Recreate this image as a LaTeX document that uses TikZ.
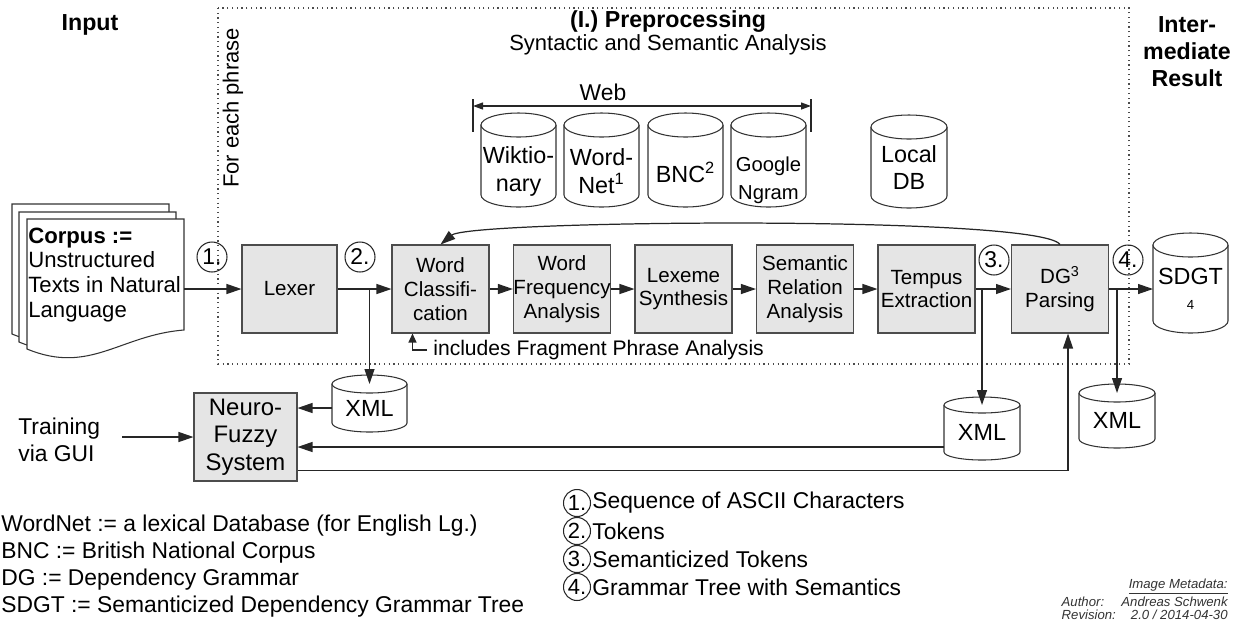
\documentclass[tikz,border=0pt]{standalone}
\usepackage{fontspec}
\setmainfont{Liberation Sans}
\usetikzlibrary{arrows.meta,calc,shapes.geometric}

% one drawing unit = 0.02cm
\newcommand{\pxu}{0.02cm}
\newcommand{\fsz}[2]{\fontsize{#1}{#2}\selectfont}

% database cylinder: [label shift], name, left, top, right, bottom, ellipse y-radius, label
\newcommand{\dbcyl}[8][0]{%
  \filldraw[dbline] (#3,#4+#7) -- (#3,#6-#7)
     arc[start angle=180,end angle=360,x radius={(#5-#3)*\pxu/2},y radius={#7*\pxu}]
     -- (#5,#4+#7)
     arc[start angle=0,end angle=180,x radius={(#5-#3)*\pxu/2},y radius={#7*\pxu}] -- cycle;
  \draw[dbline] (#3,#4+#7)
     arc[start angle=180,end angle=360,x radius={(#5-#3)*\pxu/2},y radius={#7*\pxu}];
  \node[dbframe, minimum width={(#5-#3)*\pxu}, minimum height={(#6-#4)*\pxu}]
     (#2) at ({(#3+#5)/2},{(#4+#6)/2}) {};
  \coordinate (#2-top) at ({(#3+#5)/2},{#4+#7});
  \node[dbtext] (#2-t) at ({(#3+#5)/2},{(#4+#6+#7)/2+#1}) {#8};
}

% stacked document page with a wavy lower edge
\newcommand{\docpage}[2]{%
  \filldraw[docline] (27+#1,219+#2) -- (184+#1,219+#2) -- (184+#1,330+#2)
     .. controls (120+#1,335+#2) and (90+#1,375+#2) .. (27+#1,349+#2) -- cycle;
}

\begin{document}
\begin{tikzpicture}[x=0.02cm, y=-0.02cm,
  proc/.style={draw=black!70, fill=gray!20, line width=0.6pt,
    minimum width=1.94cm, minimum height=1.76cm, inner sep=0pt,
    align=center, font=\fsz{11.7}{13.6}},
  dbline/.style={draw=black!80, fill=white, line width=0.6pt},
  dbframe/.style={inner sep=0pt, outer sep=0pt},
  dbtext/.style={inner sep=0pt, align=center, font=\fsz{13.3}{15.9}},
  docline/.style={draw=black!80, fill=white, line width=0.6pt},
  arr/.style={-{Triangle[length=0.3cm,width=0.2cm]}, draw=black!85, line width=0.7pt},
  smallarr/.style={-{Triangle[length=0.18cm,width=0.16cm]}, draw=black!85, line width=0.7pt},
  webarr/.style={{Triangle[length=0.2cm,width=0.14cm]}-{Triangle[length=0.2cm,width=0.14cm]}, draw=black!85, line width=0.7pt},
  plain/.style={draw=black!85, line width=0.7pt},
  numc/.style={circle, draw=black!85, line width=0.6pt, minimum size=0.6cm, inner sep=0pt, font=\fsz{13}{14}},
  legc/.style={circle, draw=black!85, line width=0.6pt, minimum size=0.54cm, inner sep=0pt, font=\fsz{12.5}{14}},
  hdr/.style={font=\bfseries\fsz{13.2}{15.3}, align=center, inner sep=0pt},
  lbl/.style={inner sep=0pt, align=left},
]
\useasboundingbox (0,0) rectangle (1240,620);

% ---------- frame of the per-phrase preprocessing ----------
\draw[dotted, draw=black!70, line width=0.7pt] (218,8) rectangle (1129,364);
\node[inner sep=0pt, rotate=90, font=\fsz{12.5}{14}] (each) at (233,108) {For each phrase};

% ---------- headings ----------
\node[hdr] (input) at (90,25) {Input};
\node[hdr] (prep) at (668,22) {(I.) Preprocessing};
\node[inner sep=0pt, font=\fsz{12.5}{14}] (prepsub) at (668,45) {Syntactic and Semantic Analysis};
\node[hdr] (inter) at (1187,52) {Inter-\\mediate\\Result};

% ---------- web resources ----------
\coordinate (webL) at (473,106);
\coordinate (webR) at (811,106);
\draw[webarr] (webL) -- (webR);
\draw[plain] ($(webL)+(0,-7)$) -- ($(webL)+(0,26)$);
\draw[plain] ($(webR)+(0,-7)$) -- ($(webR)+(0,26)$);
\node[inner sep=0pt, font=\fsz{13}{15}] (web) at (603,92) {Web};

\dbcyl[5]{wik}{481}{113}{556}{207}{12}{Wiktio-\\nary}
\dbcyl[5]{wn}{564}{113}{639}{207}{12}{Word-\\Net\textsuperscript{1}}
\dbcyl[6]{bnc}{648}{113}{723}{207}{12}{BNC\textsuperscript{2}}
\dbcyl[14]{goo}{731}{113}{806}{207}{12}{{\fsz{11.5}{12.8}Google}\\{\fsz{11.5}{12.8}Ngram}}
\dbcyl{ldb}{871}{115}{947}{208}{12}{Local\\DB}

% ---------- input corpus ----------
\docpage{-15}{-15}
\docpage{-8}{-7}
\docpage{0}{0}
\node[lbl, anchor=west, font=\fsz{12.6}{14.2}] (corpus) at (28,275)
  {\textbf{Corpus :=}\\Unstructured\\Texts in Natural\\Language};
\coordinate (corpus-out) at (184,289);

% ---------- processing chain ----------
\node[proc, minimum width=1.9cm] (lexer) at (289.5,289) {Lexer};
\node[proc] (wc) at (440.5,289) {Word\\Classifi-\\cation};
\node[proc] (wf) at (562,289) {Word\\Frequency\\Analysis};
\node[proc] (lx) at (683.5,289) {Lexeme\\Synthesis};
\node[proc] (sr) at (805,289) {Semantic\\Relation\\Analysis};
\node[proc] (te) at (926.5,289) {Tempus\\Extraction};
\node[proc] (dg) at (1060,289) {DG\textsuperscript{3}\\Parsing};

\dbcyl{sdgt}{1153}{233}{1228}{333}{12}{SDGT\\[-2pt]{\fsz{7.5}{8}4}}

% ---------- stored intermediate files ----------
\dbcyl{xml1}{332}{375}{407}{432}{9}{XML}
\dbcyl{xml2}{944}{397}{1020}{460}{8}{XML}
\dbcyl{xml3}{1079}{384}{1155}{448}{9}{XML}

% ---------- neuro-fuzzy training ----------
\node[proc, minimum width=2.06cm, font=\fsz{13.6}{15.6}] (nf) at (245.5,437) {Neuro-\\Fuzzy\\System};
\node[lbl, anchor=west, font=\fsz{13}{15.3}] (train) at (18,440) {Training\\via GUI};

% ---------- step markers ----------
\node[numc] (s1) at (212,257) {1.};
\node[numc] (s2) at (360,257) {2.};
\node[numc] (s3) at (994,260) {3.};
\node[numc] (s4) at (1128,260) {4.};

% ---------- connectors ----------
\draw[arr] (corpus-out) -- (lexer.west);
\draw[arr] (lexer.east) -- (wc.west);
\draw[arr] (xml1-top |- lexer.east) -- (xml1-top);
\draw[arr] (wc.east) -- (wf.west);
\draw[arr] (wf.east) -- (lx.west);
\draw[arr] (lx.east) -- (sr.west);
\draw[arr] (sr.east) -- (te.west);
\draw[arr] (te.east) -- (dg.west);
\draw[arr] (xml2-top |- te.east) -- (xml2-top);
\draw[arr] (dg.east) -- (dg.east -| sdgt.west);
\draw[arr] (xml3-top |- dg.east) -- (xml3-top);

% feedback from parsing to word classification
\draw[arr] (dg.north) .. controls (1040,215) and (470,220) .. (wc.north);

% note on word classification
\node[inner xsep=0.12cm, inner ysep=0pt, anchor=west, font=\fsz{12}{14}] (incl) at (427,350)
  {includes Fragment Phrase Analysis};
\coordinate (wc-in) at ($(wc.south)+(-28,0)$);
\draw[smallarr] (incl.west) -| (wc-in);

% training paths
\coordinate (xml1-out) at ($(xml1.west)+(0,4.5)$);
\draw[arr] (xml1-out) -- (xml1-out -| nf.east);
\coordinate (xml2-out) at ($(xml2.south west)+(0,-13)$);
\draw[arr] (xml2-out) -- (xml2-out -| nf.east);
\coordinate (nf-out) at ($(nf.south east)+(0,-11)$);
\coordinate (dg-in) at ($(dg.south)+(8,0)$);
\draw[arr] (nf-out) -| (dg-in);
\coordinate (train-out) at ($(train.east)+(22,-3)$);
\draw[arr] (train-out) -- (train-out -| nf.west);

% ---------- glossary ----------
\node[lbl, anchor=west, font=\fsz{13}{15.5}] (gloss) at (1,566)
  {WordNet := a lexical Database (for English Lg.)\\
   BNC := British National Corpus\\
   DG := Dependency Grammar\\
   SDGT := Semanticized Dependency Grammar Tree};

% ---------- step legend ----------
\node[legc] (l1) at (577,503) {1.};
\node[legc] (l2) at (577,531) {2.};
\node[legc] (l3) at (577,559) {3.};
\node[legc] (l4) at (577,587) {4.};
\node[lbl, anchor=west, font=\fsz{13}{15}] (t1) at (592,503) {Sequence of ASCII Characters};
\node[lbl, anchor=west, font=\fsz{13}{15}] (t2) at (592,531) {Tokens};
\node[lbl, anchor=west, font=\fsz{13}{15}] (t3) at (592,559) {Semanticized Tokens};
\node[lbl, anchor=west, font=\fsz{13}{15}] (t4) at (592,587) {Grammar Tree with Semantics};

% ---------- metadata ----------
\node[inner sep=0pt, anchor=east, align=right, text=black!80, font=\itshape\fsz{7.5}{7.4}] (meta) at (1228,599)
  {\underline{Image Metadata:}\\
   \hbox to 3.32cm{Author:\hfill Andreas Schwenk}\\
   \hbox to 3.32cm{Revision:\hfill 2.0 / 2014-04-30}};
\end{tikzpicture}
\end{document}
